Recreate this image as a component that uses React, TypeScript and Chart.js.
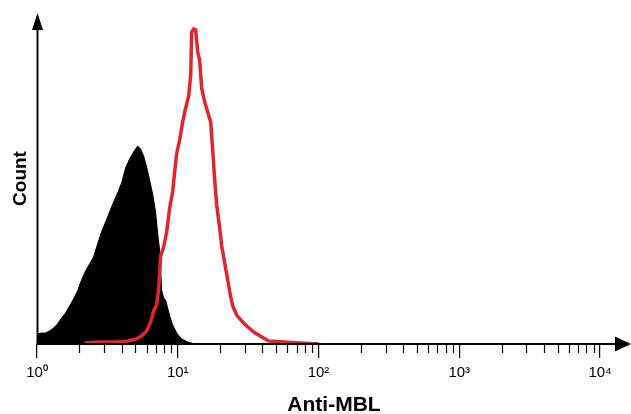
import React, { useEffect, useRef } from 'react';
import { Chart, registerables } from 'chart.js';

Chart.register(...registerables);

// Isotype control (black, filled) — fluorescence value / event count
const blackValues = [1.0, 1.008, 1.076, 1.149, 1.227, 1.31, 1.399, 1.494, 1.595, 1.703, 1.818, 1.941, 2.073, 2.213, 2.363, 2.523, 2.694, 2.876, 3.071, 3.279, 3.501, 3.738, 3.991, 4.261, 4.549, 4.858, 5.187, 5.446, 5.721, 6.008, 6.311, 6.628, 6.964, 7.194, 7.434, 7.682, 7.938, 8.203, 8.478, 8.76, 9.198, 9.822, 10.66, 11.76, 13.19];
const blackCounts = [10, 10, 11, 11, 13, 16, 20, 26, 31, 38, 45, 53, 64, 73, 80, 87, 100, 112, 122, 132, 142, 151, 161, 176, 185, 192, 198, 195, 188, 177, 164, 150, 132, 111, 94, 54, 46, 44, 36, 28, 19, 11, 5, 2, 0];

// Anti-MBL stained (red outline)
const redValues = [2.177, 2.783, 3.557, 4.404, 5.018, 5.538, 6.008, 6.415, 6.738, 7.077, 7.313, 7.557, 7.938, 8.339, 8.76, 9.198, 9.506, 9.822, 10.31, 10.84, 11.38, 11.96, 12.36, 12.56, 12.98, 13.41, 13.85, 14.31, 14.79, 15.54, 16.32, 17.14, 17.71, 18.3, 18.91, 19.86, 20.52, 21.56, 22.64, 23.78, 24.58, 26.24, 28.48, 30.9, 34.66, 39.53, 44.32, 56.65, 72.42, 100.5];
const redCounts = [1, 2, 2, 3, 5, 8, 13, 22, 33, 39, 54, 88, 97, 112, 136, 152, 172, 190, 204, 222, 236, 248, 269, 312, 315, 314, 292, 284, 256, 242, 232, 222, 194, 164, 139, 116, 98, 81, 64, 47, 38, 29, 23, 18, 12, 7, 3, 2, 1, 0];

const majorTicks = [1, 10, 100, 1000, 10000];
const majorLabels = ['10\u2070', '10\u00b9', '10\u00b2', '10\u00b3', '10\u2074'];
const minorMultipliers = [2, 3, 4, 5, 6, 7, 8, 9];
const minorDecades = [1, 10, 100, 1000];
const xTitle = 'Anti-MBL';
const yTitle = 'Count';

const FONT = "'Liberation Sans', Arial, Helvetica, sans-serif";

const arrowAxesPlugin = {
  id: 'arrowAxes',
  afterDraw(chart: any) {
    const { ctx, chartArea, scales } = chart;
    const xs = scales.x;
    const left = chartArea.left + 0.5;
    const bottom = chartArea.bottom;
    ctx.save();
    ctx.strokeStyle = '#000';
    ctx.fillStyle = '#000';
    ctx.lineWidth = 2;
    // x axis line + arrow
    ctx.beginPath();
    ctx.moveTo(left - 1, bottom);
    ctx.lineTo(chart.width - 14, bottom);
    ctx.stroke();
    ctx.beginPath();
    ctx.moveTo(chart.width - 16, bottom - 7.5);
    ctx.lineTo(chart.width, bottom);
    ctx.lineTo(chart.width - 16, bottom + 7.5);
    ctx.closePath();
    ctx.fill();
    // y axis line + arrow
    ctx.beginPath();
    ctx.moveTo(left, bottom + 1);
    ctx.lineTo(left, chartArea.top + 15);
    ctx.stroke();
    ctx.beginPath();
    ctx.moveTo(left - 5.5, chartArea.top + 17);
    ctx.lineTo(left, chartArea.top);
    ctx.lineTo(left + 5.5, chartArea.top + 17);
    ctx.closePath();
    ctx.fill();
    // minor ticks
    ctx.lineWidth = 1.2;
    for (const d of minorDecades) {
      for (const m of minorMultipliers) {
        const px = Math.round(xs.getPixelForValue(m * d)) + 0.5;
        ctx.beginPath();
        ctx.moveTo(px, bottom);
        ctx.lineTo(px, bottom + 9);
        ctx.stroke();
      }
    }
    ctx.restore();
  },
};

export default function App() {
  const ref = useRef<HTMLCanvasElement | null>(null);

  useEffect(() => {
    document.body.style.margin = '0';
    const canvas = ref.current;
    if (!canvas) return;
    const chart = new Chart(canvas, {
      type: 'line',
      data: {
        datasets: [
          {
            label: 'Anti-MBL',
            data: redValues.map((v, i) => ({ x: v, y: redCounts[i] })),
            borderColor: '#e0262b',
            borderWidth: 3.5,
            borderJoinStyle: 'miter',
            pointRadius: 0,
            fill: false,
            tension: 0,
          },
          {
            label: 'Control',
            data: blackValues.map((v, i) => ({ x: v, y: blackCounts[i] })),
            borderColor: '#000',
            backgroundColor: '#000',
            borderWidth: 1,
            pointRadius: 0,
            fill: 'origin',
            tension: 0,
          },
        ],
      },
      options: {
        responsive: false,
        animation: false,
        events: [],
        layout: { padding: { top: 13, left: 0, right: 0, bottom: 0 } },
        plugins: {
          legend: { display: false },
          tooltip: { enabled: false },
        },
        scales: {
          x: {
            type: 'logarithmic',
            min: 1,
            max: 16600,
            afterBuildTicks: (s: any) => {
              s.ticks = majorTicks.map((v) => ({ value: v }));
            },
            afterFit: (s: any) => {
              s.height = 70;
            },
            border: { display: false },
            grid: {
              display: true,
              drawOnChartArea: false,
              drawTicks: true,
              tickLength: 14,
              color: '#000',
              tickColor: '#000',
              lineWidth: 1.2,
            },
            ticks: {
              autoSkip: false,
              maxRotation: 0,
              padding: 6,
              color: '#000',
              font: { family: FONT, size: 15 },
              callback: (_v: any, i: number) => majorLabels[i],
            },
            title: {
              display: true,
              text: xTitle,
              color: '#000',
              font: { family: FONT, size: 21, weight: 'bold', lineHeight: 0.86 },
              padding: { top: 0, bottom: 0 },
            },
          },
          y: {
            type: 'linear',
            min: 0,
            max: 331,
            afterFit: (s: any) => {
              s.width = 37;
            },
            border: { display: false },
            grid: { display: false },
            ticks: { display: false },
            title: {
              display: true,
              text: yTitle,
              color: '#000',
              font: { family: FONT, size: 19, weight: 'bold', lineHeight: 1.2 },
              padding: { top: 9, bottom: 0 },
            },
          },
        },
      },
      plugins: [arrowAxesPlugin],
    });
    return () => chart.destroy();
  }, []);

  return (
    <div style={{ width: 631, height: 414, background: '#fff' }}>
      <canvas ref={ref} width={631} height={414} style={{ display: 'block' }} />
    </div>
  );
}
